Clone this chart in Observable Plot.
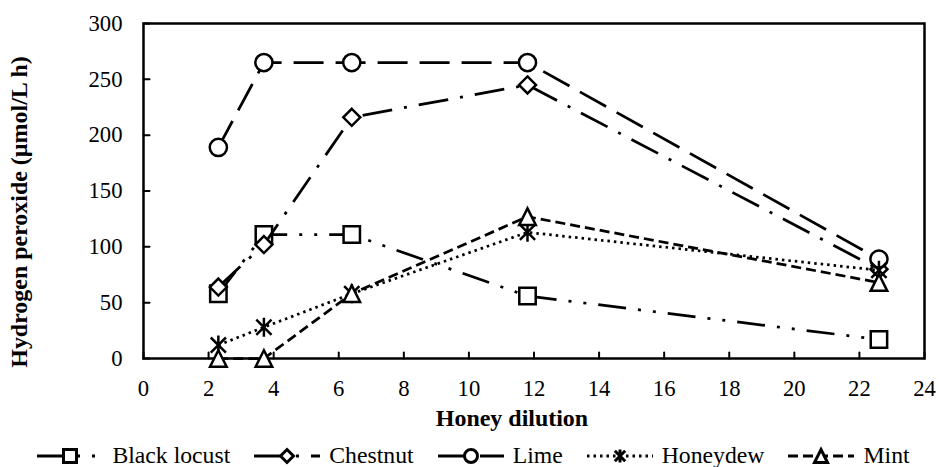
<!DOCTYPE html>
<html><head><meta charset="utf-8">
<script src="https://cdn.jsdelivr.net/npm/d3@7"></script>
<script src="https://cdn.jsdelivr.net/npm/@observablehq/plot@0.6"></script>
<style>
html,body{margin:0;padding:0;background:#fff;overflow:hidden;}
body{color:#000;width:939px;height:467px;font-family:"Liberation Serif","Times New Roman",serif;}
#legend{display:flex;justify-content:center;align-items:center;height:27px;line-height:27px;margin-left:8px;position:relative;top:2px;}
.item{display:flex;align-items:center;margin:0 12px;}
.item svg{margin-right:9px;overflow:visible;}
</style></head><body>
<div id="chart"></div>
<div id="legend"></div>
<script>
const dilution = [2.3, 3.7, 6.4, 11.8, 22.6];
const seriesNames = ["Black locust", "Chestnut", "Lime", "Honeydew", "Mint"];
const blackLocust = [58, 111, 111, 56, 17];
const chestnut = [64, 102, 216, 245, 80];
const lime = [189, 265, 265, 265, 89];
const honeydew = [12, 28, 58, 113, 79];
const mint = [0, 0, 58, 127, 68];
const xTicks = [0, 2, 4, 6, 8, 10, 12, 14, 16, 18, 20, 22, 24];
const yTicks = [0, 50, 100, 150, 200, 250, 300];
const xTitle = "Honey dilution";
const yTitle = "Hydrogen peroxide (µmol/L h)";

const FAM = `"Liberation Serif", "Times New Roman", serif`;
const ctx = document.createElement("canvas").getContext("2d");
function fit(text, target, weight) {
  ctx.font = `${weight} 100px ${FAM}`;
  return 100 * target / ctx.measureText(text).width;
}
const tickFont = Math.min(24, fit("300", 34, "normal"));
const titleFont = Math.min(fit(xTitle, 158, "bold"), fit(yTitle, 313, "bold"));
const legendFont = fit("Black locust", 118, "normal");

// custom marker symbols (size = r^2 * PI convention)
const rOf = s => Math.sqrt(s / Math.PI);
const symSquare = {draw(c, s){const r = rOf(s); c.rect(-r, -r, 2*r, 2*r);}};
const symDiamond = {draw(c, s){const r = rOf(s); c.moveTo(0,-r); c.lineTo(r,0); c.lineTo(0,r); c.lineTo(-r,0); c.closePath();}};
const symCircle = {draw(c, s){const r = rOf(s); c.moveTo(r,0); c.arc(0,0,r,0,2*Math.PI); c.closePath();}};
const symStar = {draw(c, s){const r = rOf(s), d = r*0.8; c.moveTo(0,-r); c.lineTo(0,r); c.moveTo(-d,-d); c.lineTo(d,d); c.moveTo(-d,d); c.lineTo(d,-d);}};
const symTriangle = {draw(c, s){const r = rOf(s); c.moveTo(0,-r); c.lineTo(r,r); c.lineTo(-r,r); c.closePath();}};

const series = [
  {name: seriesNames[0], values: blackLocust, dash: "28,12,3,12,3,12", symbol: symSquare, r: 8.2},
  {name: seriesNames[1], values: chestnut, dash: "30,12,3,12", symbol: symDiamond, r: 8.5},
  {name: seriesNames[2], values: lime, dash: "30,12", symbol: symCircle, r: 8.6},
  {name: seriesNames[3], values: honeydew, dash: "2.5,4", symbol: symStar, r: 9.5},
  {name: seriesNames[4], values: mint, dash: "10,5", symbol: symTriangle, r: 8.3}
];

const tickShapeV = {draw(c, l){c.moveTo(0,0); c.lineTo(0,-l);}};

const marks = [
  Plot.frame({stroke: "black", strokeWidth: 2.5}),
  Plot.vector(xTicks, {x: d => d, y: yTicks[0], length: 6, rotate: 0, anchor: "start", shape: tickShapeV, stroke: "black", strokeWidth: 2}),
  Plot.vector(yTicks, {x: xTicks[0], y: d => d, length: 6, rotate: 90, anchor: "start", shape: tickShapeV, stroke: "black", strokeWidth: 2}),
  Plot.axisX({ticks: xTicks, tickSize: 0, tickPadding: 21, fontSize: tickFont, label: null}),
  Plot.axisY({ticks: yTicks, tickSize: 0, tickPadding: 21, fontSize: tickFont, label: null}),
  Plot.text([xTitle], {text: d => d, frameAnchor: "bottom", textAnchor: "middle", dx: -22, dy: 60, fontSize: titleFont, fontWeight: "bold", lineAnchor: "middle"}),
  Plot.text([yTitle], {text: d => d, frameAnchor: "left", textAnchor: "middle", rotate: -90, dx: -124, dy: 21, fontSize: titleFont, fontWeight: "bold", lineAnchor: "middle"})
];
for (const s of series) {
  const rows = dilution.map((x, i) => ({x, y: s.values[i]}));
  marks.push(Plot.line(rows, {x: "x", y: "y", stroke: "black", strokeWidth: 2.75, strokeDasharray: s.dash, strokeLinecap: "butt"}));
  marks.push(Plot.dot(rows, {x: "x", y: "y", symbol: s.symbol, r: s.r, fill: "white", stroke: "black", strokeWidth: 2.5}));
}

const chart = Plot.plot({
  width: 939, height: 440,
  marginLeft: 143, marginRight: 15, marginTop: 23, marginBottom: 82,
  x: {domain: [xTicks[0], xTicks[xTicks.length-1]]},
  y: {domain: [yTicks[0], yTicks[yTicks.length-1]]},
  style: {fontFamily: FAM, color: "black", background: "white", overflow: "visible"},
  marks
});
document.getElementById("chart").appendChild(chart);

// legend
const legend = document.getElementById("legend");
legend.style.fontFamily = FAM;
legend.style.fontSize = legendFont + "px";
const W = 66;
for (const s of series) {
  const item = document.createElement("div");
  item.className = "item";
  const svg = d3.create("svg").attr("width", W).attr("height", 20);
  svg.append("line").attr("x1", 0).attr("x2", W).attr("y1", 10).attr("y2", 10)
    .attr("stroke", "black").attr("stroke-width", 3.2).attr("stroke-dasharray", s.dash);
  const path = d3.path();
  s.symbol.draw(path, Math.PI * 6.5 * 6.5);
  svg.append("path").attr("d", path.toString()).attr("transform", `translate(${W/2},10)`)
    .attr("fill", "white").attr("stroke", "black").attr("stroke-width", 3);
  item.appendChild(svg.node());
  const t = document.createElement("span");
  t.textContent = s.name;
  item.appendChild(t);
  legend.appendChild(item);
}
</script>
</body></html>
